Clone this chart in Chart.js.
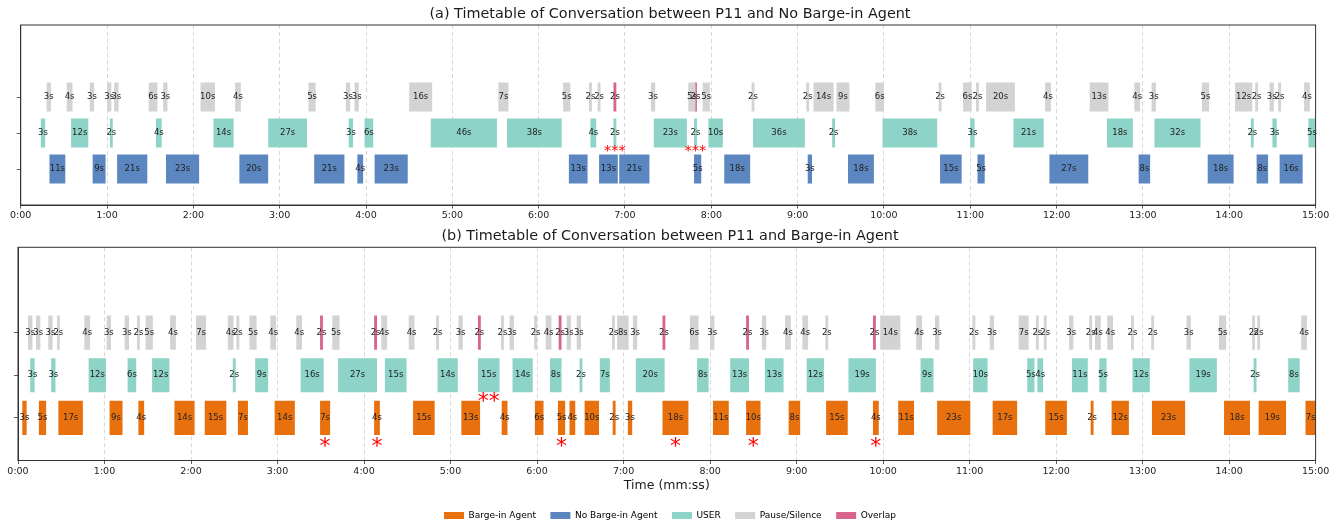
<!DOCTYPE html>
<html>
<head>
<meta charset="utf-8">
<script src="https://cdn.jsdelivr.net/npm/chart.js@4.4.1/dist/chart.umd.min.js"></script>
<style>
  html, body { margin: 0; padding: 0; background: #ffffff; overflow: hidden; }
  #wrap { position: relative; width: 1340px; height: 522px; }
  #c1 { position: absolute; left: 0; top: 0; }
  #c2 { position: absolute; left: 0; top: 228px; }
</style>
</head>
<body>
<div id="wrap">
  <canvas id="c1" width="1340" height="228"></canvas>
  <canvas id="c2" width="1340" height="294"></canvas>
</div>
<script>
// ---- Time axis: one tick per minute over a 15-minute session ----
const X_TICK_LABELS = ['0:00','1:00','2:00','3:00','4:00','5:00','6:00','7:00',
                       '8:00','9:00','10:00','11:00','12:00','13:00','14:00','15:00'];

// Rows of each timetable (bottom to top)
const ROW_NAMES = ['Agent', 'USER', 'Pause/Silence'];

// ---- (a) P11 with the No Barge-in Agent: [start (s), duration (s)] ----
const A_PAUSE = [[18,3],[32,4],[48,3],[60,3],[65,3],[89,6],[99,3],[125,10],[149,4],[200,5],
  [226,3],[232,3],[270,16],[332,7],[377,5],[395,2],[401,2],[438,3],[464,5],[474,5],
  [508,2],[546,2],[551,14],[567,9],[594,6],[638,2],[655,6],[664,2],[671,20],[712,4],
  [743,13],[774,4],[786,3],[821,5],[844,12],[858,2],[868,3],[874,2],[892,4]];
const A_OVERLAP = [[412,2],[468,2]];
const A_USER = [[14,3],[35,12],[62,2],[94,4],[134,14],[172,27],[228,3],[239,6],[285,46],
  [338,38],[396,4],[412,2],[440,23],[468,2],[478,10],[509,36],[564,2],[599,38],[660,3],
  [690,21],[755,18],[788,32],[855,2],[870,3],[895,5]];
const A_AGENT = [[20,11],[50,9],[67,21],[101,23],[152,20],[204,21],[234,4],[246,23],
  [381,13],[402,13],[416,21],[468,5],[489,18],[547,3],[575,18],[639,15],[665,5],
  [715,27],[777,8],[825,18],[859,8],[875,16]];
// centres (s) of the USER turns flagged with "***"
const A_FLAGS = [413, 469];

// ---- (b) P11 with the Barge-in Agent: [start (s), duration (s)] ----
const B_PAUSE = [[7,3],[12.5,3],[21,3],[27,2],[46,4],[61.5,3],[74,3],[82.5,2],[88.5,5],
  [105.5,4],[123.5,7],[145.5,4],[151.5,2],[160.5,5],[175,4],[193,4],[218,5],[252,4],
  [271,4],[290,2],[305.5,3],[335,2],[341,3],[358,2],[366,4],[380.5,3],[387.5,3],[412,2],
  [415.5,8],[426.5,3],[466,6],[480,3],[516,3],[532,4],[544,4],[560,2],[598,14],[623,4],
  [636,3],[662,2],[674,3],[694,7],[706,2],[711.5,2],[729,3],[743,2],[747,4],[755.5,4],
  [772,2],[786,2],[810.5,3],[833,5],[856,2],[859.5,2],[890,4]];
const B_OVERLAP = [[209.5,2],[247,2],[319,2],[375,2],[447,2],[505,2],[593,2]];
const B_USER = [[8.5,3],[23,3],[49,12],[76,6],[93,12],[149,2],[164.5,9],[196,16],[222,27],
  [254.5,15],[291,14],[319,15],[343,14],[369,8],[389.5,2],[403.5,7],[428.5,20],[471,8],
  [494,13],[518,13],[547,12],[576,19],[626,9],[662.5,10],[700,5],[707,4],[731,11],
  [750,5],[773,12],[812.5,19],[857,2],[881,8]];
const B_AGENT = [[3,3],[14.5,5],[28,17],[63.5,9],[83.5,4],[108.5,14],[129.5,15],[152.5,7],
  [178,14],[209.5,7],[247,4],[274,15],[307.5,13],[335.5,4],[358.5,6],[374.5,5],[382.5,4],
  [393,10],[412.5,2],[423,3],[447,18],[482,11],[505,10],[534.5,8],[560.5,15],[593,4],
  [610.5,11],[637.5,23],[676,17],[712.5,15],[744,2],[758.5,12],[786.5,23],[836.5,18],
  [860.5,19],[893,7]];
// centres (s) of agent turns flagged with "*", and of the USER turn flagged with "**"
const B_FLAGS_AGENT = [213, 249, 377, 456, 510, 595];
const B_FLAGS_USER = [326.5];

// ---- styling ----
const FONT = 'DejaVu Sans';
const COLORS = {
  barge: '#E8710E',
  noBarge: '#5B86C0',
  user: '#8DD3C7',
  pause: '#D3D3D3',
  overlap: '#D9668A'
};
const ROW = { agent: 0, user: 1, pause: 2 };

function segments(list, row) {
  return list.map(([s, d]) => ({ x: [s, s + d], y: row }));
}

function barSet(label, list, row, color) {
  return {
    label,
    data: segments(list, row),
    backgroundColor: color,
    borderWidth: 0,
    grouped: false,
    categoryPercentage: 1,
    barPercentage: 0.8
  };
}

// duration text centred inside each bar
const barLabels = {
  id: 'barLabels',
  afterDatasetsDraw(chart) {
    const ctx = chart.ctx;
    ctx.save();
    ctx.font = '8.5px "' + FONT + '"';
    ctx.fillStyle = '#222222';
    ctx.textAlign = 'center';
    ctx.textBaseline = 'middle';
    chart.data.datasets.forEach((ds, di) => {
      const meta = chart.getDatasetMeta(di);
      meta.data.forEach((el, i) => {
        const [s, e] = ds.data[i].x;
        ctx.fillText(Math.round(e - s) + 's', (el.x + el.base) / 2, el.y);
      });
    });
    ctx.restore();
  }
};

// closed box around the plotting area
const frame = {
  id: 'frame',
  afterDatasetsDraw(chart) {
    const { ctx, chartArea: a } = chart;
    ctx.save();
    ctx.setLineDash([]);
    ctx.strokeStyle = '#333333';
    ctx.lineWidth = 1;
    ctx.strokeRect(a.left, a.top, a.right - a.left, a.bottom - a.top);
    ctx.restore();
  }
};

// red asterisk flags, centred on a time value at a given level of the y scale
function flagPlugin(groups) {
  return {
    id: 'flags',
    afterDraw(chart) {
      const { ctx, scales } = chart;
      ctx.save();
      ctx.fillStyle = '#ff0000';
      ctx.textAlign = 'center';
      ctx.textBaseline = 'alphabetic';
      groups.forEach(g => {
        ctx.font = g.size + 'px "' + FONT + '"';
        const text = '*'.repeat(g.count);
        const m = ctx.measureText('*');
        const lift = (m.actualBoundingBoxAscent - m.actualBoundingBoxDescent) / 2;
        const y = scales.y.getPixelForValue(g.level) + lift;
        g.times.forEach(t => ctx.fillText(text, scales.x.getPixelForValue(t), y));
      });
      ctx.restore();
    }
  };
}

function makeOptions(opts) {
  return {
    responsive: false,
    animation: false,
    indexAxis: 'y',
    events: [],
    layout: { padding: 0 },
    plugins: {
      title: {
        display: true,
        text: opts.title,
        color: '#1a1a1a',
        font: { family: FONT, size: 14.4, weight: 'normal' },
        padding: { top: opts.titleTop, bottom: opts.titleBottom }
      },
      legend: opts.legend,
      tooltip: { enabled: false }
    },
    scales: {
      x: {
        type: 'linear',
        min: 0,
        max: 900,
        afterBuildTicks: s => { s.ticks = X_TICK_LABELS.map((_, i) => ({ value: i * 60 })); },
        afterFit: s => { s.height = opts.xHeight; },
        ticks: {
          autoSkip: false,
          maxRotation: 0,
          padding: 1.5,
          color: '#222222',
          font: { family: FONT, size: 9.5 },
          callback: (v, i) => X_TICK_LABELS[i]
        },
        grid: {
          display: true,
          color: 'rgba(185,185,185,0.7)',
          lineWidth: 0.8,
          drawTicks: true,
          tickLength: 3.5,
          tickColor: '#333333',
          tickWidth: 0.8,
          tickBorderDash: []
        },
        // in Chart.js v4 the dash of the grid lines is set on the border options
        border: { display: true, color: '#333333', width: 1, dash: [4, 3] },
        title: opts.xTitle
      },
      y: {
        type: 'linear',
        min: -1,
        max: 4,
        offset: false,
        afterBuildTicks: s => { s.ticks = ROW_NAMES.map((_, i) => ({ value: i })); },
        afterFit: s => { s.width = opts.yWidth; },
        ticks: { display: true, callback: () => '', font: { size: 1 }, padding: 0 },
        grid: {
          display: true,
          offset: false,
          drawOnChartArea: false,
          drawTicks: true,
          tickLength: 4,
          tickColor: '#333333',
          tickWidth: 0.8,
          color: 'rgba(0,0,0,0)'
        },
        border: { display: true, color: '#333333', width: 1 }
      },
      // empty right-hand margin, so titles and legend centre on the full figure
      margin: {
        type: 'linear',
        position: 'right',
        display: true,
        afterFit: s => { s.width = 1340 - 1315.6; },
        ticks: { display: false },
        grid: { display: false },
        border: { display: false }
      }
    }
  };
}

// (a) Timetable with the No Barge-in Agent
new Chart(document.getElementById('c1'), {
  type: 'bar',
  data: {
    datasets: [
      barSet('No Barge-in Agent', A_AGENT, ROW.agent, COLORS.noBarge),
      barSet('USER', A_USER, ROW.user, COLORS.user),
      barSet('Pause/Silence', A_PAUSE, ROW.pause, COLORS.pause),
      barSet('Overlap', A_OVERLAP, ROW.pause, COLORS.overlap)
    ]
  },
  options: makeOptions({
    title: '(a) Timetable of Conversation between P11 and No Barge-in Agent',
    titleTop: 5.36, titleBottom: 2.36,
    legend: { display: false },
    xHeight: 23,
    yWidth: 20.7,
    xTitle: { display: false }
  }),
  plugins: [barLabels, frame, flagPlugin([
    { times: A_FLAGS, level: 0.56, count: 3, size: 14.5 }
  ])]
});

// (b) Timetable with the Barge-in Agent, carrying the shared legend
new Chart(document.getElementById('c2'), {
  type: 'bar',
  data: {
    datasets: [
      barSet('Barge-in Agent', B_AGENT, ROW.agent, COLORS.barge),
      barSet('No Barge-in Agent', [], ROW.agent, COLORS.noBarge),
      barSet('USER', B_USER, ROW.user, COLORS.user),
      barSet('Pause/Silence', B_PAUSE, ROW.pause, COLORS.pause),
      barSet('Overlap', B_OVERLAP, ROW.pause, COLORS.overlap)
    ]
  },
  options: makeOptions({
    title: '(b) Timetable of Conversation between P11 and Barge-in Agent',
    titleTop: 0.06, titleBottom: 1.96,
    legend: {
      display: true,
      position: 'bottom',
      maxHeight: 25.5,
      labels: {
        boxWidth: 20,
        boxHeight: 7,
        padding: 14.5,
        color: '#222222',
        font: { family: FONT, size: 9 },
        generateLabels: chart => chart.data.datasets.map((ds, i) => ({
          text: ds.label,
          fillStyle: ds.backgroundColor,
          strokeStyle: ds.backgroundColor,
          lineWidth: 0,
          hidden: false,
          datasetIndex: i
        }))
      }
    },
    xHeight: 36,
    yWidth: 18,
    xTitle: {
      display: true,
      text: 'Time (mm:ss)',
      color: '#1a1a1a',
      font: { family: FONT, size: 12.5 },
      padding: { top: 0, bottom: 3.25 }
    }
  }),
  plugins: [barLabels, frame, flagPlugin([
    { times: B_FLAGS_AGENT, level: -0.576, count: 1, size: 22 },
    { times: B_FLAGS_USER, level: 0.482, count: 2, size: 22 }
  ])]
});
</script>
</body>
</html>
